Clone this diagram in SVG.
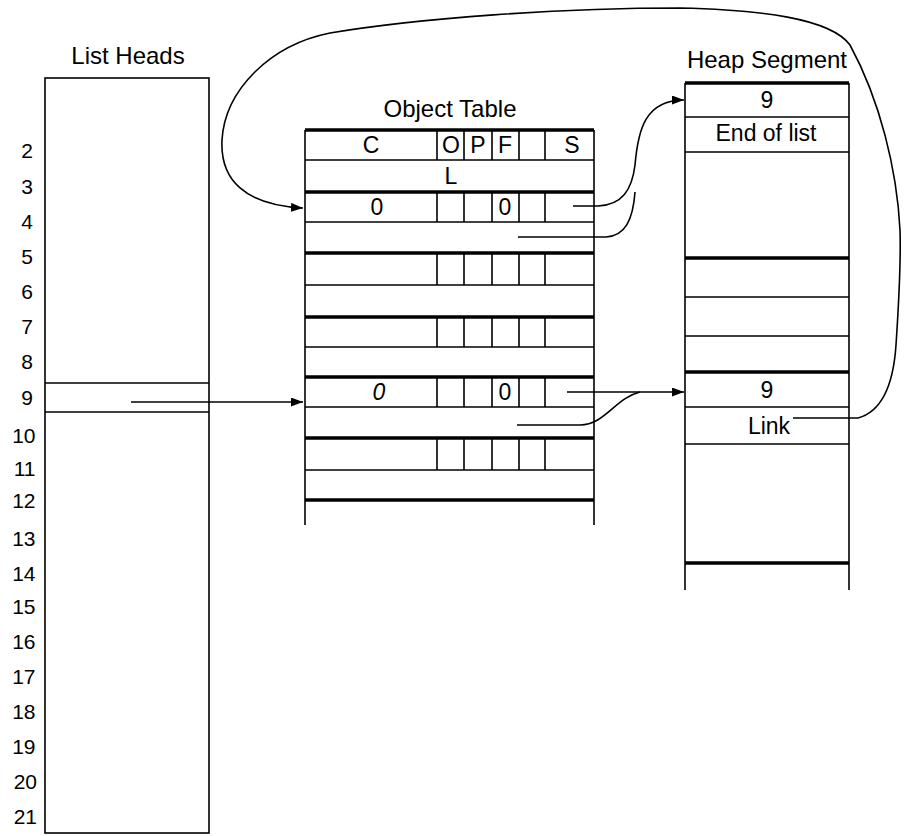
<svg xmlns="http://www.w3.org/2000/svg" width="904" height="836" viewBox="0 0 904 836">
<defs>
<marker id="ah" markerWidth="13" markerHeight="10" refX="12" refY="4.5" orient="auto" markerUnits="userSpaceOnUse">
<path d="M0,0 L12,4.5 L0,9 z" fill="#000"/>
</marker>
<style>
text{font-family:"Liberation Sans",Arial,sans-serif;fill:#000}
.t{font-size:24px;text-anchor:middle}
.c{font-size:23px;text-anchor:middle}
.n{font-size:21px;text-anchor:end}
.ln{stroke:#000;stroke-width:1.6;fill:none}
.tk{stroke:#000;stroke-width:3.5;fill:none}
.cn{stroke:#000;stroke-width:1.6;fill:none}
</style>
</defs>
<rect width="904" height="836" fill="#fff"/>

<g id="list-heads">
<text class="t" x="128" y="64">List Heads</text>
<rect class="ln" x="45" y="78" width="164" height="755"/>
<line class="ln" x1="45" y1="383" x2="209" y2="383"/>
<line class="ln" x1="45" y1="412" x2="209" y2="412"/>
<text class="n" x="33" y="157.5">2</text>
<text class="n" x="33" y="193.5">3</text>
<text class="n" x="33" y="228.5">4</text>
<text class="n" x="33" y="263.5">5</text>
<text class="n" x="33" y="298.5">6</text>
<text class="n" x="33" y="333.5">7</text>
<text class="n" x="33" y="368.5">8</text>
<text class="n" x="33" y="404.5">9</text>
<text class="n" x="35.5" y="442.5">10</text>
<text class="n" x="35.5" y="475.5">11</text>
<text class="n" x="35.5" y="507.5">12</text>
<text class="n" x="35.5" y="545.5">13</text>
<text class="n" x="35.5" y="580.5">14</text>
<text class="n" x="35.5" y="613.5">15</text>
<text class="n" x="35.5" y="648.5">16</text>
<text class="n" x="35.5" y="683.5">17</text>
<text class="n" x="35.5" y="718.5">18</text>
<text class="n" x="35.5" y="753.5">19</text>
<text class="n" x="37" y="788.5">20</text>
<text class="n" x="37" y="823.5">21</text>
</g>

<g id="object-table">
<text class="t" x="450" y="117">Object Table</text>
<line class="ln" x1="305" y1="130" x2="305" y2="525"/>
<line class="ln" x1="594" y1="130" x2="594" y2="525"/>
<g class="tk">
<line x1="305" y1="130" x2="594" y2="130"/>
<line x1="305" y1="192" x2="594" y2="192"/>
<line x1="305" y1="253" x2="594" y2="253"/>
<line x1="305" y1="317" x2="594" y2="317"/>
<line x1="305" y1="377" x2="594" y2="377"/>
<line x1="305" y1="438" x2="594" y2="438"/>
<line x1="305" y1="500" x2="594" y2="500"/>
</g>
<g class="ln">
<line x1="305" y1="160" x2="594" y2="160"/>
<line x1="305" y1="222" x2="594" y2="222"/>
<line x1="305" y1="285" x2="594" y2="285"/>
<line x1="305" y1="347" x2="594" y2="347"/>
<line x1="305" y1="407" x2="594" y2="407"/>
<line x1="305" y1="470" x2="594" y2="470"/>
<path d="M437 130V160M464 130V160M492 130V160M519 130V160M545 130V160"/>
<path d="M437 192V222M464 192V222M492 192V222M519 192V222M545 192V222"/>
<path d="M437 253V285M464 253V285M492 253V285M519 253V285M545 253V285"/>
<path d="M437 317V347M464 317V347M492 317V347M519 317V347M545 317V347"/>
<path d="M437 377V407M464 377V407M492 377V407M519 377V407M545 377V407"/>
<path d="M437 438V470M464 438V470M492 438V470M519 438V470M545 438V470"/>
</g>
<text class="c" x="371" y="153">C</text>
<text class="c" x="451" y="153">O</text>
<text class="c" x="478" y="153">P</text>
<text class="c" x="505" y="153">F</text>
<text class="c" x="572" y="153">S</text>
<text class="c" x="451" y="184">L</text>
<text class="c" x="377" y="215">0</text>
<text class="c" x="505" y="215">0</text>
<text class="c" x="379" y="400" font-style="italic">0</text>
<text class="c" x="505" y="400">0</text>
</g>

<g id="heap-segment">
<text class="t" x="767" y="68">Heap Segment</text>
<line class="ln" x1="685" y1="83" x2="685" y2="590"/>
<line class="ln" x1="849" y1="83" x2="849" y2="590"/>
<g class="tk">
<line x1="685" y1="83" x2="849" y2="83"/>
<line x1="685" y1="258" x2="849" y2="258"/>
<line x1="685" y1="372" x2="849" y2="372"/>
<line x1="685" y1="563" x2="849" y2="563"/>
</g>
<g class="ln">
<line x1="685" y1="117" x2="849" y2="117"/>
<line x1="685" y1="152" x2="849" y2="152"/>
<line x1="685" y1="297" x2="849" y2="297"/>
<line x1="685" y1="336" x2="849" y2="336"/>
<line x1="685" y1="407" x2="849" y2="407"/>
<line x1="685" y1="444" x2="849" y2="444"/>
</g>
<text class="c" x="767" y="108">9</text>
<text class="c" x="766" y="141">End of list</text>
<text class="c" x="767" y="398">9</text>
<text class="c" x="769" y="434">Link</text>
</g>

<g id="connectors" class="cn">
<path d="M131 402 L303 402" marker-end="url(#ah)"/>
<path d="M793 418 L858 418 C880 412 893 390 896 345 C899 300 901 260 900 230 C897 170 880 100 850 45 C830 18 760 10 680 8 C560 8 420 18 330 33 C270 45 225 90 222 140 C220 180 245 205 303 208" marker-end="url(#ah)"/>
<path d="M573 206 L598 206 C622 205 632 190 635 165 C638 130 645 100 684 100" marker-end="url(#ah)"/>
<path d="M518 237 L606 237 C625 236 633 220 635 192"/>
<path d="M567 392 L684 392" marker-end="url(#ah)"/>
<path d="M517 425 L580 425 C605 425 615 398 640 392"/>
</g>
</svg>
